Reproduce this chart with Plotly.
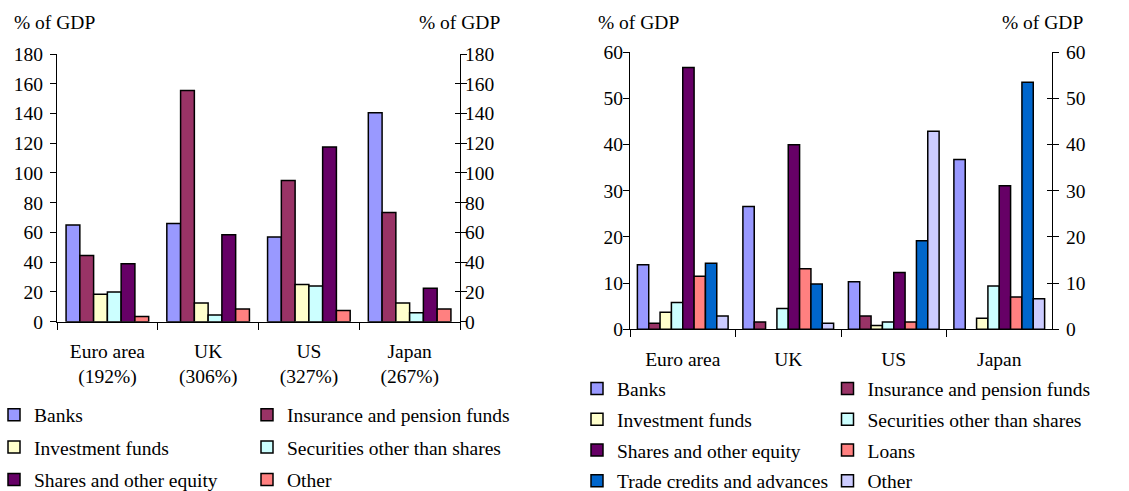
import plotly.graph_objects as go

# ---------------- data ----------------
categories = ["Euro area", "UK", "US", "Japan"]
left_totals = ["192%", "306%", "327%", "267%"]

left_series = ["Banks", "Insurance and pension funds", "Investment funds",
               "Securities other than shares", "Shares and other equity", "Other"]
left_banks = [65, 66, 57, 140.5]
left_insurance = [44.5, 155.5, 95, 73.5]
left_investment = [18.5, 12.5, 25, 12.5]
left_securities = [20, 4.5, 24, 6]
left_shares = [39, 58.5, 117.5, 22.5]
left_other = [3.5, 8.5, 7.5, 8.5]

right_series = ["Banks", "Insurance and pension funds", "Investment funds",
                "Securities other than shares", "Shares and other equity", "Loans",
                "Trade credits and advances", "Other"]
right_banks = [14, 26.6, 10.3, 36.8]
right_insurance = [1.3, 1.6, 2.9, None]
right_investment = [3.7, None, 0.8, 2.4]
right_securities = [5.8, 4.5, 1.6, 9.4]
right_shares = [56.7, 40, 12.3, 31.1]
right_loans = [11.5, 13.1, 1.6, 7]
right_trade = [14.3, 9.8, 19.2, 53.5]
right_other = [2.9, 1.3, 42.9, 6.6]

left_values = [left_banks, left_insurance, left_investment, left_securities,
               left_shares, left_other]
right_values = [right_banks, right_insurance, right_investment, right_securities,
                right_shares, right_loans, right_trade, right_other]

left_colors = ["#9999FF", "#993366", "#FFFFCC", "#CCFFFF", "#660066", "#FF8080"]
right_colors = ["#9999FF", "#993366", "#FFFFCC", "#CCFFFF", "#660066", "#FF8080",
                "#0066CC", "#CCCCFF"]

FONT = "Liberation Serif, Times New Roman, serif"
FS = 19.5
W, H = 1129, 491

fig = go.Figure()

# left chart bars
n_l = len(left_series)
span_l = 0.82
bw_l = span_l / n_l
for i, (name, vals, col) in enumerate(zip(left_series, left_values, left_colors)):
    legend = "legend" if i % 2 == 0 else "legend2"
    fig.add_trace(go.Bar(
        x=categories, y=vals, name=name, xaxis="x", yaxis="y",
        width=bw_l, offset=-span_l / 2 + i * bw_l,
        marker=dict(color=col, line=dict(color="black", width=1.5)),
        legend=legend, legendgroup="L" + str(i), hoverinfo="x+y+name",
    ))

# right chart bars
n_r = len(right_series)
span_r = 0.86
bw_r = span_r / n_r
for i, (name, vals, col) in enumerate(zip(right_series, right_values, right_colors)):
    legend = "legend3" if i % 2 == 0 else "legend4"
    fig.add_trace(go.Bar(
        x=categories, y=vals, name=name, xaxis="x2", yaxis="y2",
        width=bw_r, offset=-span_r / 2 + i * bw_r,
        marker=dict(color=col, line=dict(color="black", width=1.5)),
        legend=legend, legendgroup="R" + str(i), hoverinfo="x+y+name",
    ))

# invisible traces to activate the overlaid right-hand axes
fig.add_trace(go.Scatter(x=[categories[0]], y=[0], xaxis="x", yaxis="y3",
                         mode="markers", marker=dict(opacity=0), showlegend=False,
                         hoverinfo="skip"))
fig.add_trace(go.Scatter(x=[categories[0]], y=[0], xaxis="x2", yaxis="y4",
                         mode="markers", marker=dict(opacity=0), showlegend=False,
                         hoverinfo="skip"))

def px_x(p):
    return p / W

def px_y(p):
    return 1 - p / H

tick_font = dict(family=FONT, size=FS, color="black")
left_ticktext = [f"{c}<br>({t})" for c, t in zip(categories, left_totals)]

common_x = dict(type="category", showline=True, linecolor="black", linewidth=1,
                ticks="outside", ticklen=7, tickcolor="black", tickson="boundaries",
                showgrid=False, zeroline=False, tickfont=tick_font,
                range=[-0.5, 3.5], ticklabelstandoff=12)
common_y = dict(showline=True, linecolor="black", linewidth=1, showgrid=False,
                zeroline=False, tickfont=tick_font, tickcolor="black")

fig.update_layout(
    width=W, height=H,
    margin=dict(l=0, r=0, t=0, b=0, autoexpand=False),
    paper_bgcolor="white", plot_bgcolor="white",
    barmode="overlay",
    font=dict(family=FONT, size=FS, color="black"),
    xaxis=dict(domain=[px_x(57), px_x(460)], anchor="y",
               tickvals=categories, ticktext=left_ticktext, **common_x),
    xaxis2=dict(domain=[px_x(630), px_x(1052)], anchor="y2", **common_x),
    yaxis=dict(domain=[px_y(321.7), px_y(54)], anchor="x", range=[0, 180], dtick=20,
               ticks="outside", ticklen=6, mirror="ticks", ticklabelstandoff=3,
               **common_y),
    yaxis3=dict(overlaying="y", side="right", anchor="x", range=[0, 180], dtick=20,
                ticks="inside", ticklen=5, ticklabelstandoff=0, **common_y),
    yaxis2=dict(domain=[px_y(329.3), px_y(52.3)], anchor="x2", range=[0, 60], dtick=10,
                ticks="outside", ticklen=6, mirror="ticks", ticklabelstandoff=-4,
                **common_y),
    yaxis4=dict(overlaying="y2", side="right", anchor="x2", range=[0, 60], dtick=10,
                ticks="inside", ticklen=5, ticklabelstandoff=9, **common_y),
)

leg_common = dict(orientation="v", yanchor="top", xanchor="left",
                  font=dict(family=FONT, size=FS, color="black"),
                  bgcolor="rgba(0,0,0,0)", borderwidth=0, itemclick=False,
                  itemdoubleclick=False)
fig.update_layout(
    legend=dict(x=px_x(-6), y=px_y(395.5), tracegroupgap=4, **leg_common),
    legend2=dict(x=px_x(247), y=px_y(395.5), tracegroupgap=4, **leg_common),
    legend3=dict(x=px_x(577), y=px_y(369.3), tracegroupgap=2.4, **leg_common),
    legend4=dict(x=px_x(827.5), y=px_y(369.3), tracegroupgap=2.4, **leg_common),
)

ann_font = dict(family=FONT, size=FS, color="black")
for xp, anchor in [(12, "left"), (502, "right"), (596, "left"), (1085, "right")]:
    fig.add_annotation(text="% of GDP", xref="paper", yref="paper",
                       x=px_x(xp), y=px_y(23), xanchor=anchor, yanchor="middle",
                       showarrow=False, font=ann_font)

fig.write_html("out.html", config={"displayModeBar": False},
               post_script="document.body.style.margin='0px';")
